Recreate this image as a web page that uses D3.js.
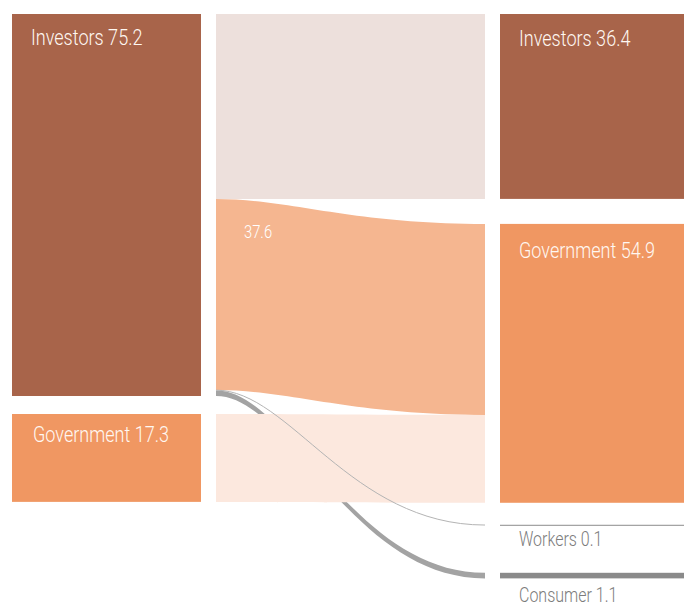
<!DOCTYPE html>
<html>
<head>
<meta charset="utf-8">
<script src="https://cdn.jsdelivr.net/npm/d3@7"></script>
<style>
  body { margin: 0; background: #fff; }
  svg text { font-family: Roboto, "DejaVu Sans Condensed", sans-serif; font-weight: 300; }
</style>
</head>
<body>
<div class="chartHolder"></div>
<script>
// nodes on each side
var sources = ["Investors", "Government"];
var sourceValues = [75.2, 17.3];
var targets = ["Investors", "Government", "Workers", "Consumer"];
var targetValues = [36.4, 54.9, 0.1, 1.1];

// flows: source index -> target index
var linkSource = [0, 0, 0, 0, 1];
var linkTarget = [0, 1, 2, 3, 1];
var linkValues = [36.4, 37.6, 0.1, 1.1, 17.3];
var linkLabels = ["", "37.6", "", "", ""];

var svgW = 684, svgH = 606;
var top0 = 14;
var leftX = 12, leftW = 189;
var linkX0 = 216, linkX1 = 485;
var rightX = 500, rightW = 190;
var leftGaps = [0, 18];
var rightGaps = [0, 25, 22, 47.5];
var squeeze = 0.82; // the original face is a condensed one

var nodeColor = { "Investors": "#a8644a", "Government": "#f09762", "Workers": "#8c8c8c", "Consumer": "#8a8a8a" };
var linkColors = ["#ede0dc", "#f5b690", "#b4b4b4", "#a3a3a3", "#fce8de"];

var svg = d3.select(".chartHolder").append("svg").attr("width", svgW).attr("height", svgH);

var yScale = d3.scaleLinear().domain([0, 75.2]).range([0, 382]);

// stack nodes
function stack(values, gaps) {
  var y = top0, out = [];
  values.forEach(function (v, i) {
    y += gaps[i];
    out.push({ y0: y, y1: y + yScale(v), off: y });
    y += yScale(v);
  });
  return out;
}
var leftNodes = stack(sourceValues, leftGaps);
var rightNodes = stack(targetValues, rightGaps);

var links = linkValues.map(function (v, i) {
  var s = leftNodes[linkSource[i]], t = rightNodes[linkTarget[i]];
  var h = yScale(v);
  var l = { sy0: s.off, sy1: s.off + h, ty0: t.off, ty1: t.off + h, h: h, i: i };
  s.off += h;
  t.off += h;
  return l;
});

// the bend leans a bit to the left in the original
var c1 = linkX0 + 0.275 * (linkX1 - linkX0),
    c2 = linkX0 + 0.5 * (linkX1 - linkX0),
    r1 = linkX1 - (c1 - linkX0),
    r2 = linkX1 - (c2 - linkX0);
function ribbon(d) {
  return "M" + linkX0 + "," + d.sy0 +
    "C" + c1 + "," + d.sy0 + " " + c2 + "," + d.ty0 + " " + linkX1 + "," + d.ty0 +
    "L" + linkX1 + "," + d.ty1 +
    "C" + c2 + "," + d.ty1 + " " + c1 + "," + d.sy1 + " " + linkX0 + "," + d.sy1 + "Z";
}
function strand(d) {
  var a = (d.sy0 + d.sy1) / 2, b = (d.ty0 + d.ty1) / 2;
  return "M" + linkX0 + "," + a +
    "C" + c1 + "," + a + " " + c2 + "," + b + " " + linkX1 + "," + b;
}

var wide = links.filter(function (d) { return d.h >= 3; });
var thin = links.filter(function (d) { return d.h < 3; });

svg.append("g").selectAll("path").data(wide).enter().append("path")
  .attr("d", ribbon)
  .attr("fill", function (d) { return linkColors[d.i]; });

svg.append("g").selectAll("path").data(thin).enter().append("path")
  .attr("d", strand)
  .attr("fill", "none")
  .attr("stroke", function (d) { return linkColors[d.i]; })
  .attr("stroke-width", function (d) { return Math.max(1, d.h); });

function condense(sel) {
  sel.each(function () {
    var w = this.getComputedTextLength();
    d3.select(this).attr("textLength", w * squeeze).attr("lengthAdjust", "spacingAndGlyphs");
  });
}

svg.append("g").selectAll("text").data(wide.filter(function (d) { return linkLabels[d.i]; })).enter().append("text")
  .attr("x", linkX0 + 28)
  .attr("y", function (d) { return d.sy0 + 39; })
  .attr("fill", "#fff")
  .attr("font-size", 18)
  .text(function (d) { return linkLabels[d.i]; })
  .call(condense);

// left nodes
svg.append("g").selectAll("rect").data(leftNodes).enter().append("rect")
  .attr("x", leftX).attr("width", leftW)
  .attr("y", function (d) { return d.y0; })
  .attr("height", function (d) { return d.y1 - d.y0; })
  .attr("fill", function (d, i) { return nodeColor[sources[i]]; });

svg.append("g").selectAll("text").data(leftNodes).enter().append("text")
  .attr("x", function (d, i) { return leftX + 19 + i * 2; })
  .attr("y", function (d, i) { return d.y0 + 31 - i * 3; })
  .attr("fill", "#fff8f2")
  .attr("font-size", 22)
  .text(function (d, i) { return sources[i] + " " + sourceValues[i]; })
  .call(condense);

// right nodes
svg.append("g").selectAll("rect").data(rightNodes).enter().append("rect")
  .attr("x", rightX).attr("width", rightW)
  .attr("y", function (d) { return d.y0; })
  .attr("height", function (d) { return Math.max(1, d.y1 - d.y0); })
  .attr("fill", function (d, i) { return nodeColor[targets[i]]; });

svg.append("g").selectAll("text").data(rightNodes).enter().append("text")
  .attr("x", rightX + 19)
  .attr("y", function (d, i) {
    var h = d.y1 - d.y0;
    return targetValues[i] < 3 ? d.y1 + 20 + h * 0.7 : d.y0 + 32 + (i ? 2 : 0);
  })
  .attr("fill", function (d, i) { return targetValues[i] < 3 ? "#7c7c7c" : "#fff8f2"; })
  .attr("font-size", function (d, i) { return targetValues[i] < 3 ? 19.5 : 22; })
  .text(function (d, i) { return targets[i] + " " + targetValues[i]; })
  .call(condense);
</script>
</body>
</html>
